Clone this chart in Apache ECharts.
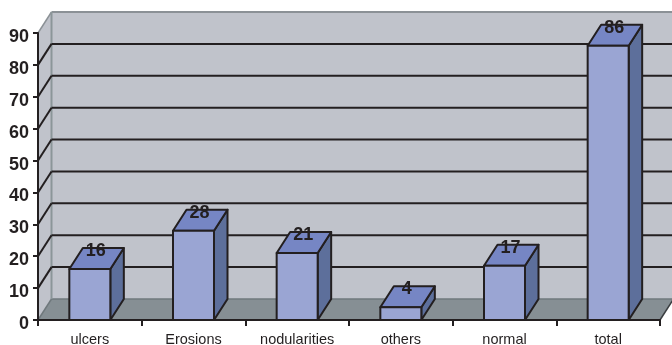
<!DOCTYPE html>
<html>
<head>
<meta charset="utf-8">
<style>html,body{margin:0;padding:0;background:#fff}#chart{width:672px;height:345px}</style>
<script src="https://cdn.jsdelivr.net/npm/echarts@6/dist/echarts.min.js"></script>
</head>
<body>
<div id="chart"></div>
<script>
// Findings per category
const categories = ['ulcers', 'Erosions', 'nodularities', 'others', 'normal', 'total'];
const counts = [16, 28, 21, 4, 17, 86];
const yTicks = [0, 10, 20, 30, 40, 50, 60, 70, 80, 90];

// Oblique projection used for the box look
const DEPTH_X = 13.5;
const DEPTH_Y = -21;
const BAR_WIDTH = 41;
const INK = '#231f20';

const chart = echarts.init(document.getElementById('chart'));

function poly(points, fill, stroke, lineWidth) {
  return {
    type: 'polygon',
    shape: { points },
    style: { fill, stroke: stroke || null, lineWidth: lineWidth || 0, lineJoin: 'round' }
  };
}
function seg(a, b, stroke, lineWidth) {
  return {
    type: 'line',
    shape: { x1: a[0], y1: a[1], x2: b[0], y2: b[1] },
    style: { stroke, lineWidth, lineCap: 'butt' }
  };
}

// Back wall, side wall, floor and the gridlines that wrap across them
function renderRoom(params, api) {
  const g = params.coordSys;
  const L = g.x, R = g.x + g.width;
  const y0 = api.coord([0, 0])[1], yTop = api.coord([0, 90])[1];
  const dx = DEPTH_X, dy = DEPTH_Y;
  const kids = [
    poly([[L + dx, yTop + dy], [R + dx, yTop + dy], [R + dx, y0 + dy], [L + dx, y0 + dy]], '#c0c3cb'),
    poly([[L, yTop], [L + dx, yTop + dy], [L + dx, y0 + dy], [L, y0]], '#c0c3cb'),
    poly([[L, y0], [L + dx, y0 + dy], [R + dx, y0 + dy], [R, y0]], '#868f94'),
    seg([L + dx, y0 + dy], [R + dx, y0 + dy], '#6f787c', 1.5),
    seg([L, y0], [L + dx, y0 + dy], '#6f787c', 1.5),
    seg([R, y0], [R + dx, y0 + dy], '#3a3d40', 1.5),
    seg([L + dx, yTop + dy], [R + dx, yTop + dy], '#8b9196', 2),
    seg([L, yTop], [L + dx, yTop + dy], '#8b9196', 1.5),
    seg([L + dx, yTop + dy], [L + dx, y0 + dy], '#8b9699', 2)
  ];
  yTicks.forEach(function (t) {
    if (t === 0 || t === 90) return;
    const y = api.coord([0, t])[1];
    kids.push(seg([L, y], [L + dx, y + dy], INK, 2));
    kids.push(seg([L + dx, y + dy], [R + dx, y + dy], INK, 2));
  });
  return { type: 'group', children: kids };
}

// One box per category, value label on the top face
function renderBox(params, api) {
  const top = api.coord([api.value(0), api.value(1)]);
  const base = api.coord([api.value(0), 0]);
  const hw = BAR_WIDTH / 2;
  const x0 = top[0] - hw, x1 = top[0] + hw;
  const yT = top[1], yB = base[1];
  const dx = DEPTH_X, dy = DEPTH_Y;
  return {
    type: 'group',
    children: [
      poly([[x1, yT], [x1 + dx, yT + dy], [x1 + dx, yB + dy], [x1, yB]], '#5d6f9b', INK, 2),
      poly([[x0, yT], [x0 + dx, yT + dy], [x1 + dx, yT + dy], [x1, yT]], '#7686c4', INK, 2),
      poly([[x0, yT], [x1, yT], [x1, yB], [x0, yB]], '#9aa5d3', INK, 2),
      {
        type: 'text',
        style: {
          text: String(api.value(1)),
          x: top[0] + 6,
          y: yT - 18,
          align: 'center',
          verticalAlign: 'middle',
          font: 'bold 18px "Liberation Sans"',
          fill: INK
        }
      }
    ]
  };
}

chart.setOption({
  animation: false,
  backgroundColor: '#ffffff',
  grid: { left: 38, right: 12, top: 33, bottom: 25, outerBoundsMode: 'none' },
  xAxis: {
    type: 'category',
    data: categories,
    z: 5,
    axisLine: { lineStyle: { color: INK, width: 2 } },
    axisTick: { show: true, alignWithLabel: false, length: 6, lineStyle: { color: INK, width: 2 } },
    axisLabel: { color: INK, fontFamily: 'Liberation Sans', fontSize: 14.5, margin: 12, interval: 0 }
  },
  yAxis: {
    type: 'value',
    min: 0,
    max: 90,
    interval: 10,
    z: 5,
    splitLine: { show: false },
    axisLine: { show: true, lineStyle: { color: INK, width: 2 } },
    axisTick: { show: true, length: 5, lineStyle: { color: INK, width: 2 } },
    axisLabel: { color: INK, fontFamily: 'Liberation Sans', fontWeight: 'bold', fontSize: 18, margin: 9, verticalAlign: 'top', lineHeight: 8 }
  },
  series: [
    { type: 'custom', name: 'room', z: 1, silent: true, renderItem: renderRoom, data: [[0, 0]], encode: { x: 0, y: 1 } },
    { type: 'custom', name: 'count', z: 2, renderItem: renderBox,
      data: categories.map(function (c, i) { return [i, counts[i]]; }), encode: { x: 0, y: 1 } }
  ]
});
</script>
</body>
</html>
